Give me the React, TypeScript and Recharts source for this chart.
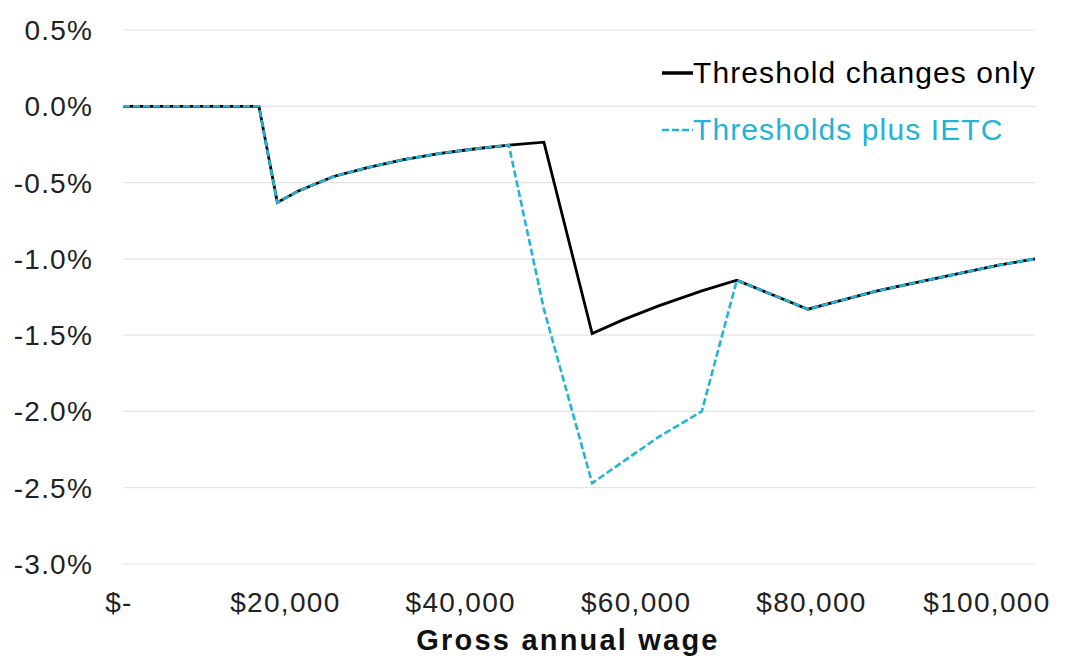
import { CartesianGrid, Label, Legend, Line, LineChart, XAxis, YAxis } from 'recharts';

// Gross annual wage ($) and change in tax as a share of wage (%)
const wages = [
  0, 15500, 17600, 20000, 24000, 28000, 32000, 36000, 40000, 44000, 48000, 53500, 57000, 61000,
  66000, 70000, 78100, 82000, 86000, 90000, 95000, 100000, 104000,
];
const thresholdOnly = [
  0, 0, -0.63, -0.555, -0.46, -0.4, -0.35, -0.31, -0.28, -0.255, -0.235, -1.49, -1.4, -1.31,
  -1.21, -1.14, -1.33, -1.27, -1.21, -1.16, -1.1, -1.04, -1.0,
];
const thresholdsPlusIetc = [
  0, 0, -0.63, -0.555, -0.46, -0.4, -0.35, -0.31, -0.28, -0.255, -1.33, -2.47, -2.33, -2.17,
  -2.0, -1.14, -1.33, -1.27, -1.21, -1.16, -1.1, -1.04, -1.0,
];
const xTicks = [0, 20000, 40000, 60000, 80000, 100000];
const yTicks = [-3, -2.5, -2, -1.5, -1, -0.5, 0, 0.5];

const series = [
  { key: 'threshold', name: 'Threshold changes only', color: '#000000', dash: undefined },
  { key: 'ietc', name: 'Thresholds plus IETC', color: '#22b3d6', dash: '7 3' },
];

const data = wages.map((wage, i) => ({
  wage,
  threshold: thresholdOnly[i],
  ietc: thresholdsPlusIetc[i],
}));

const FONT = '"Liberation Sans", Arial, sans-serif';

const XTick = ({ x, y, payload }: any) => (
  <text
    x={x + (payload.value === 0 ? -4 : -13)}
    y={y}
    dy='0.71em'
    textAnchor='middle'
    fill='#222'
    fontSize={28}
    fontFamily={FONT}
    style={{ letterSpacing: 1.3 }}
  >
    {payload.value === 0 ? '$-' : `$${payload.value.toLocaleString('en-US')}`}
  </text>
);

const YTick = ({ x, y, payload }: any) => (
  <text
    x={x}
    y={y}
    dy='0.355em'
    textAnchor='end'
    fill='#222'
    fontSize={28}
    fontFamily={FONT}
    style={{ letterSpacing: 1.2 }}
  >
    {`${payload.value.toFixed(1)}%`}
  </text>
);

const LegendBox = () => (
  <div style={{ fontFamily: FONT, fontSize: 30, letterSpacing: 1.1 }}>
    {series.map((s) => (
      <div
        key={s.key}
        style={{ display: 'flex', alignItems: 'center', height: 57, color: s.color }}
      >
        <svg width={31} height={6}>
          <line
            x1={0}
            y1={3}
            x2={31}
            y2={3}
            stroke={s.color}
            strokeWidth={s.dash ? 2.5 : 3.5}
            strokeDasharray={s.dash}
          />
        </svg>
        <span>{s.name}</span>
      </div>
    ))}
  </div>
);

const App = () => {
  return (
    <div style={{ position: 'absolute', left: 0, top: 0, background: '#fff' }}>
      <LineChart
        width={1070}
        height={659}
        data={data}
        margin={{ top: 30, right: 35, bottom: 35, left: 0 }}
      >
        {/* Grid */}
        <CartesianGrid vertical={false} stroke='#e4e4e4' strokeWidth={1.2} />

        {/* Axes */}
        <XAxis
          dataKey='wage'
          type='number'
          domain={[0, 'dataMax']}
          ticks={xTicks}
          axisLine={false}
          tickLine={false}
          tickSize={0}
          tickMargin={28}
          height={60}
          tick={<XTick />}
        >
          <Label
            value='Gross annual wage'
            position='bottom'
            offset={5}
            dx={-11}
            fill='#111'
            fontSize={29}
            fontWeight='bold'
            fontFamily={FONT}
            style={{ letterSpacing: 2.2 }}
          />
        </XAxis>
        <YAxis
          type='number'
          domain={[-3, 0.5]}
          ticks={yTicks}
          width={123}
          axisLine={false}
          tickLine={false}
          tickSize={0}
          tickMargin={30}
          tick={<YTick />}
        />

        {/* Legend */}
        <Legend
          layout='vertical'
          align='center'
          verticalAlign='middle'
          content={<LegendBox />}
          wrapperStyle={{ left: 662, top: 44, width: 400 }}
        />

        {/* Lines */}
        <Line
          dataKey='threshold'
          name='Threshold changes only'
          type='linear'
          stroke='#000000'
          strokeWidth={2.8}
          dot={false}
          isAnimationActive={false}
        />
        <Line
          dataKey='ietc'
          name='Thresholds plus IETC'
          type='linear'
          stroke='#22b3d6'
          strokeWidth={2.6}
          strokeDasharray='7 3'
          dot={false}
          isAnimationActive={false}
        />
      </LineChart>
    </div>
  );
};

export default App;
